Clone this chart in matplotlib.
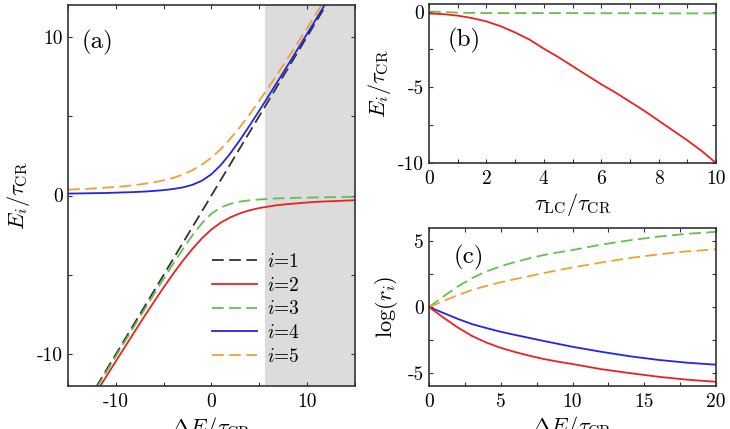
import numpy as np
import matplotlib
matplotlib.use("Agg")
from matplotlib import pyplot as plt
from matplotlib.ticker import MultipleLocator

plt.rcParams['font.family'] = 'cmr10'
plt.rcParams['mathtext.fontset'] = 'cm'
plt.rcParams['axes.unicode_minus'] = False
plt.rcParams['axes.formatter.use_mathtext'] = False

# ---- panel (a): levels vs detuning
dE = [-15, -14, -13, -12, -11, -10, -9, -8, -7, -6, -5, -4, -3, -2, -1, 0,
      1, 2, 3, 4, 5, 6, 7, 8, 9, 10, 11, 12, 13, 14, 15]
E1_x = [-13, 13]
E1 = [-13, 13]
E2_x = dE[2:]
E2 = [-13.35, -12.37, -11.40, -10.44, -9.49, -8.54, -7.60, -6.69, -5.79, -4.93,
      -4.12, -3.37, -2.70, -2.14, -1.70, -1.37, -1.12, -0.93, -0.79, -0.69,
      -0.60, -0.54, -0.49, -0.44, -0.40, -0.37, -0.35, -0.32, -0.30]
E3_x = dE[2:]
E3 = [-13.10, -12.11, -11.12, -10.13, -9.14, -8.16, -7.18, -6.21, -5.25, -4.30,
      -3.38, -2.52, -1.75, -1.14, -0.75, -0.52, -0.38, -0.30, -0.25, -0.21,
      -0.18, -0.16, -0.14, -0.13, -0.12, -0.11, -0.10, -0.09, -0.09]
E4_x = dE[:29]
E4 = [0.12, 0.13, 0.14, 0.15, 0.16, 0.18, 0.20, 0.22, 0.25, 0.29, 0.34, 0.41,
      0.51, 0.67, 0.93, 1.34, 1.93, 2.67, 3.51, 4.41, 5.34, 6.29, 7.25, 8.22,
      9.20, 10.18, 11.16, 12.15, 13.14]
E5_x = dE[:28]
E5 = [0.37, 0.40, 0.42, 0.46, 0.50, 0.54, 0.59, 0.66, 0.74, 0.83, 0.96, 1.11,
      1.32, 1.59, 1.94, 2.39, 2.94, 3.59, 4.32, 5.11, 5.96, 6.83, 7.74, 8.66,
      9.59, 10.54, 11.50, 12.46]
shade = [5.6, 15]

# ---- panel (b): levels vs tau_LC
tLC = [0, 0.5, 1, 1.5, 2, 2.5, 3, 3.5, 4, 4.5, 5, 5.5, 6, 6.5, 7, 7.5, 8,
       8.5, 9, 9.5, 10]
Eb2 = [-0.13, -0.17, -0.27, -0.43, -0.65, -0.97, -1.38, -1.85, -2.45, -3.0,
       -3.6, -4.2, -4.8, -5.35, -5.95, -6.55, -7.2, -7.85, -8.5, -9.2, -10.0]
Eb3 = [0.0, -0.03, -0.07, -0.09, -0.1, -0.1, -0.1, -0.1, -0.1, -0.1, -0.1,
       -0.11, -0.11, -0.11, -0.11, -0.11, -0.12, -0.12, -0.12, -0.12, -0.12]

# ---- panel (c): log ratios vs detuning
dEc = [0, 1, 2, 3, 4, 5, 6, 7, 8, 9, 10, 12, 14, 16, 18, 20]
r2 = [0, -0.8, -1.55, -2.2, -2.7, -3.1, -3.42, -3.7, -3.95, -4.15, -4.33,
      -4.72, -5.02, -5.3, -5.52, -5.68]
r3 = [0, 0.8, 1.55, 2.2, 2.7, 3.1, 3.42, 3.7, 3.95, 4.15, 4.33, 4.74, 5.07,
      5.35, 5.56, 5.71]
r4 = [0, -0.45, -0.9, -1.3, -1.6, -1.88, -2.12, -2.35, -2.58, -2.8, -3.02,
      -3.4, -3.74, -4.02, -4.23, -4.38]
r5 = [0, 0.45, 0.9, 1.3, 1.6, 1.88, 2.12, 2.35, 2.58, 2.8, 3.0, 3.38, 3.72,
      4.0, 4.23, 4.38]

c_black = '#333333'
c_red = '#ee2020'
c_green = '#62c24a'
c_blue = '#2424e6'
c_orange = '#f4a02c'
lw = 1.3
dash = (6.5, 3)

fig = plt.figure(figsize=(7.3, 4.29), dpi=100)
axa = fig.add_axes([0.0932, 0.1002, 0.3928, 0.8881])
axb = fig.add_axes([0.5877, 0.620, 0.3931, 0.3707])
axc = fig.add_axes([0.5877, 0.1002, 0.3931, 0.3683])

def style(ax, xmaj, xmin, ymaj, ymin):
    ax.xaxis.set_major_locator(MultipleLocator(xmaj))
    ax.xaxis.set_minor_locator(MultipleLocator(xmin))
    ax.yaxis.set_major_locator(MultipleLocator(ymaj))
    ax.yaxis.set_minor_locator(MultipleLocator(ymin))
    ax.tick_params(which='both', direction='in', top=True, right=True,
                   length=3, width=0.8, color='#333333', labelsize=14)
    ax.tick_params(axis='x', pad=5)
    for s in ax.spines.values():
        s.set_linewidth(1.2)
        s.set_color('#333333')

# (a)
axa.axvspan(shade[0], shade[1], color='#dcdcdc', lw=0, zorder=0)
axa.plot(E1_x, E1, color=c_black, lw=lw, dashes=dash, label='$i$=1')
axa.plot(E2_x, E2, color=c_red, lw=lw, label='$i$=2')
axa.plot(E3_x, E3, color=c_green, lw=lw, dashes=dash, label='$i$=3')
axa.plot(E4_x, E4, color=c_blue, lw=lw, label='$i$=4')
axa.plot(E5_x, E5, color=c_orange, lw=lw, dashes=dash, label='$i$=5')
axa.set_xlim(-15, 15)
axa.set_ylim(-12, 12)
style(axa, 10, 5, 10, 5)
axa.set_ylabel(r'$E_i/\tau_{\rm CR}$', fontsize=16, labelpad=4)
axa.set_xlabel(r'$\Delta E/\tau_{\rm CR}$', fontsize=16, labelpad=3)
axa.text(0.049, 0.903, '(a)', transform=axa.transAxes, fontsize=18,
         va='center')
axa.legend(loc='lower left', bbox_to_anchor=(0.475, 0.032), frameon=False,
           fontsize=14, handlelength=2.3, labelspacing=0.3,
           handletextpad=0.55, borderaxespad=0)

# (b)
axb.plot(tLC, Eb3, color=c_green, lw=lw, dashes=dash)
axb.plot(tLC, Eb2, color=c_red, lw=lw)
axb.set_xlim(0, 10)
axb.set_ylim(-10, 0.5)
style(axb, 2, 1, 5, 2.5)
axb.set_ylabel(r'$E_i/\tau_{\rm CR}$', fontsize=16, labelpad=4)
axb.set_xlabel(r'$\tau_{\rm LC}/\tau_{\rm CR}$', fontsize=16, labelpad=2)
axb.text(0.066, 0.77, '(b)', transform=axb.transAxes, fontsize=18,
         va='center')

# (c)
axc.plot(dEc, r3, color=c_green, lw=lw, dashes=dash)
axc.plot(dEc, r5, color=c_orange, lw=lw, dashes=dash)
axc.plot(dEc, r4, color=c_blue, lw=lw)
axc.plot(dEc, r2, color=c_red, lw=lw)
axc.set_xlim(0, 20)
axc.set_ylim(-6, 6)
style(axc, 5, 2.5, 5, 2.5)
axc.set_ylabel(r'$\log(r_i)$', fontsize=16, labelpad=6)
axc.set_xlabel(r'$\Delta E/\tau_{\rm CR}$', fontsize=16, labelpad=2)
axc.text(0.084, 0.816, '(c)', transform=axc.transAxes, fontsize=18,
         va='center')

plt.savefig('out.png', dpi=100)
plt.close()
